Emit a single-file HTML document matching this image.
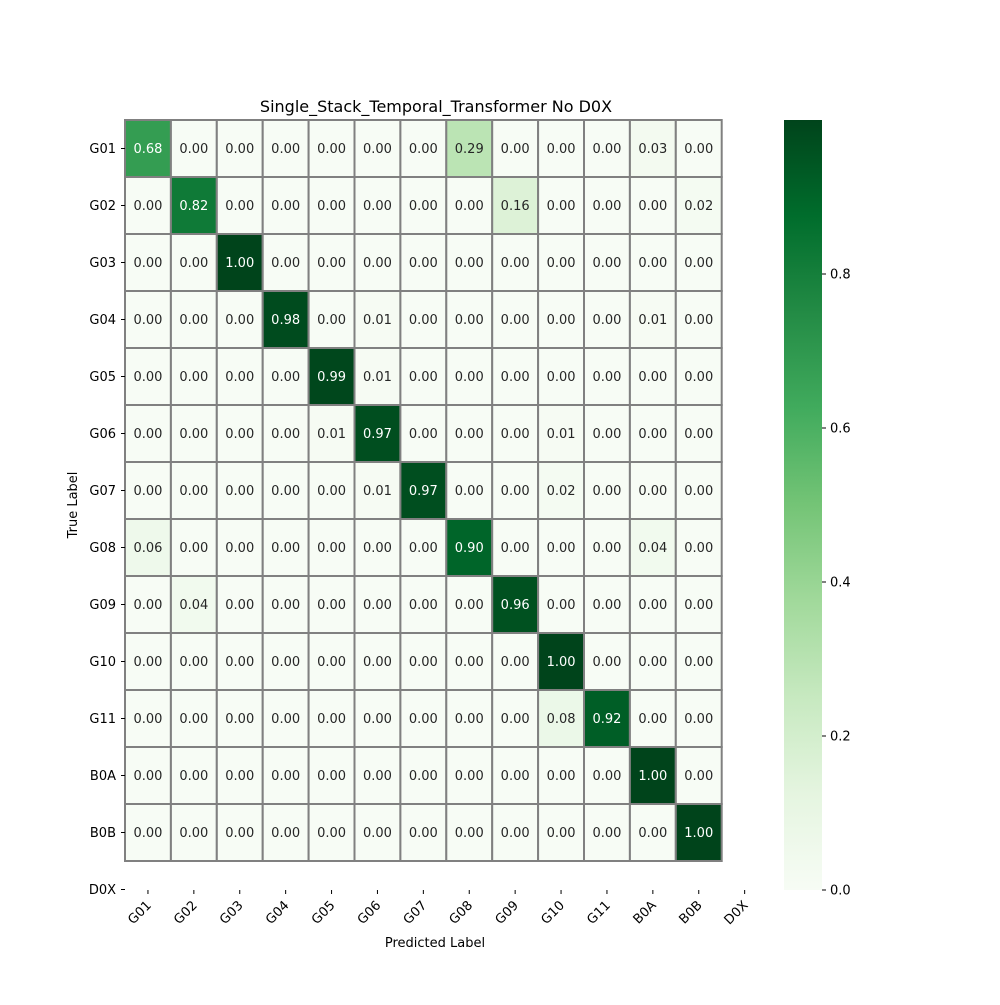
<!DOCTYPE html>
<html><head><meta charset="utf-8"><style>
html,body{margin:0;padding:0;background:#fff;}
svg text{font-family:"DejaVu Sans","Liberation Sans",sans-serif;}
</style></head><body>
<svg id="chart" width="1000" height="1000" xmlns="http://www.w3.org/2000/svg">
<rect width="1000" height="1000" fill="#fff"/>
<text x="436" y="112" font-size="16" text-anchor="middle">Single_Stack_Temporal_Transformer No D0X</text>
<text x="435" y="947" font-size="13" text-anchor="middle">Predicted Label</text>
<text x="77" y="505" font-size="13" text-anchor="middle" transform="rotate(-90 77 505)">True Label</text>
<g id="cells"></g><g id="xt"></g><g id="yt"></g><g id="cb"></g>
</svg>
<script>
const xLabels=["G01","G02","G03","G04","G05","G06","G07","G08","G09","G10","G11","B0A","B0B","D0X"];
const yLabels=["G01","G02","G03","G04","G05","G06","G07","G08","G09","G10","G11","B0A","B0B","D0X"];
const matrix=[
[0.68,0,0,0,0,0,0,0.29,0,0,0,0.03,0],
[0,0.82,0,0,0,0,0,0,0.16,0,0,0,0.02],
[0,0,1.00,0,0,0,0,0,0,0,0,0,0],
[0,0,0,0.98,0,0.01,0,0,0,0,0,0.01,0],
[0,0,0,0,0.99,0.01,0,0,0,0,0,0,0],
[0,0,0,0,0.01,0.97,0,0,0,0.01,0,0,0],
[0,0,0,0,0,0.01,0.97,0,0,0.02,0,0,0],
[0.06,0,0,0,0,0,0,0.90,0,0,0,0.04,0],
[0,0.04,0,0,0,0,0,0,0.96,0,0,0,0],
[0,0,0,0,0,0,0,0,0,1.00,0,0,0],
[0,0,0,0,0,0,0,0,0,0.08,0.92,0,0],
[0,0,0,0,0,0,0,0,0,0,0,1.00,0],
[0,0,0,0,0,0,0,0,0,0,0,0,1.00]];
const cbTicks=[0,0.2,0.4,0.6,0.8];
const NS="http://www.w3.org/2000/svg";
const X0=125,CW=45.9,Y0=120,CH=57;
const xs=i=>X0+i*CW, ys=j=>Y0+j*CH;
const stops=["#f7fcf5","#e5f5e0","#c7e9c0","#a1d99b","#74c476","#41ab5d","#238b45","#006d2c","#00441b"];
function hex(h){return [1,3,5].map(k=>parseInt(h.substr(k,2),16));}
function cmap(v){v=Math.max(0,Math.min(1,v));const p=v*8,i=Math.min(7,Math.floor(p)),f=p-i;const a=hex(stops[i]),b=hex(stops[i+1]);return "rgb("+a.map((c,k)=>Math.round(c+(b[k]-c)*f)).join(",")+")";}
function mk(t,at,par){const e=document.createElementNS(NS,t);for(const k in at)e.setAttribute(k,at[k]);par.appendChild(e);return e;}
const cells=document.getElementById("cells");
matrix.forEach((row,j)=>row.forEach((v,i)=>{
 const r=mk("rect",{x:xs(i),y:ys(j),width:CW,height:CH,fill:cmap(v),stroke:"#808080","stroke-width":2},cells);
 
 
 const t=mk("text",{x:xs(i)+CW/2,y:ys(j)+CH/2+4.5,"font-size":13,"text-anchor":"middle",fill:v>0.5?"#fff":"#262626"},cells);
 
 
 t.textContent=v.toFixed(2);
}));
const xt=document.getElementById("xt");
xLabels.forEach((l,i)=>{
 const cx=xs(i)+CW/2;
 mk("line",{x1:cx,x2:cx,y1:890,y2:894,stroke:"#000"},xt);
 const t=mk("text",{x:cx+4,y:906,"font-size":13,"text-anchor":"end",transform:"rotate(-45 "+(cx+4)+" 906)"},xt);
 
 
 t.textContent=l;
});
const yt=document.getElementById("yt");
yLabels.forEach((l,j)=>{
 const cy=ys(j)+CH/2;
 mk("line",{x1:121,x2:125,y1:cy,y2:cy,stroke:"#000"},yt);
 const t=mk("text",{x:116,y:cy+4.5,"font-size":13,"text-anchor":"end"},yt);
 
 
 t.textContent=l;
});
const cb=document.getElementById("cb");
const CBX=784,CBW=38,CBT=120,CBB=890;
const cbY=v=>CBB-v*(CBB-CBT);
const defs=mk("defs",{},cb);
const g=mk("linearGradient",{id:"gr",x1:0,y1:1,x2:0,y2:0},defs);
stops.forEach((s,k)=>mk("stop",{offset:k/8,"stop-color":s},g));
const bar=mk("rect",{x:CBX,y:CBT,width:CBW,height:CBB-CBT,fill:"url(#gr)"},cb);


cbTicks.forEach(v=>{
 mk("line",{x1:CBX+CBW,x2:CBX+CBW+4,y1:cbY(v),y2:cbY(v),stroke:"#000"},cb);
 const t=mk("text",{x:CBX+CBW+8,y:cbY(v)+4.5,"font-size":13},cb);
 
 
 t.textContent=v.toFixed(1);
});
</script>
</body></html>
